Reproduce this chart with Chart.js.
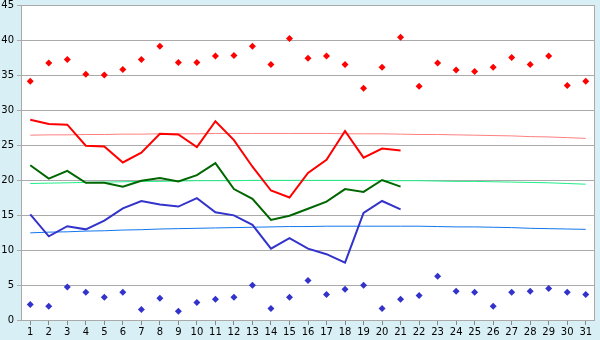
<!DOCTYPE html>
<html>
<head>
<meta charset="utf-8">
<script src="https://cdn.jsdelivr.net/npm/chart.js@4"></script>
<style>
  html, body { margin: 0; padding: 0; background: #d9eff6; }
  #chart { display: block; }
</style>
</head>
<body>
<canvas id="chart" width="600" height="340"></canvas>
<script>
// days of the month
const days = ['1','2','3','4','5','6','7','8','9','10','11','12','13','14','15','16',
              '17','18','19','20','21','22','23','24','25','26','27','28','29','30','31'];

// daily max / min markers
const maxPoints = [34.1, 36.7, 37.2, 35.1, 35.0, 35.8, 37.2, 39.1, 36.8, 36.8,
                   37.7, 37.8, 39.1, 36.5, 40.2, 37.4, 37.7, 36.5, 33.1, 36.1,
                   40.4, 33.4, 36.7, 35.7, 35.5, 36.1, 37.5, 36.5, 37.7, 33.5, 34.1];
const minPoints = [2.2, 1.95, 4.7, 3.95, 3.25, 3.95, 1.5, 3.1, 1.25, 2.5,
                   2.95, 3.25, 4.95, 1.65, 3.25, 5.65, 3.65, 4.4, 4.95, 1.65,
                   2.95, 3.5, 6.25, 4.1, 3.95, 1.95, 3.95, 4.1, 4.5, 3.95, 3.65];

// measured lines (days 1-21)
const redLine   = [28.6, 28.0, 27.9, 24.9, 24.8, 22.5, 23.9, 26.6, 26.5, 24.7,
                   28.4, 25.7, 21.9, 18.5, 17.5, 21.0, 22.9, 27.0, 23.2, 24.5, 24.2];
const greenLine = [22.1, 20.2, 21.3, 19.6, 19.6, 19.05, 19.9, 20.3, 19.8, 20.7,
                   22.4, 18.7, 17.3, 14.3, 14.9, 15.9, 16.9, 18.7, 18.3, 20.0, 19.05];
const blueLine  = [15.1, 11.95, 13.4, 12.95, 14.2, 15.95, 17.0, 16.5, 16.2, 17.4,
                   15.4, 14.95, 13.6, 10.2, 11.7, 10.2, 9.4, 8.2, 15.3, 17.0, 15.8];

// long-term reference curves
const redTrend   = [26.4, 26.45, 26.45, 26.5, 26.5, 26.55, 26.55, 26.6, 26.6, 26.6,
                    26.65, 26.65, 26.65, 26.65, 26.65, 26.65, 26.65, 26.6, 26.6, 26.6,
                    26.55, 26.5, 26.5, 26.45, 26.4, 26.35, 26.3, 26.2, 26.15, 26.05, 25.95];
const greenTrend = [19.5, 19.55, 19.6, 19.65, 19.7, 19.75, 19.8, 19.8, 19.85, 19.9,
                    19.9, 19.9, 19.95, 19.95, 19.95, 19.95, 19.95, 19.95, 19.95, 19.9,
                    19.9, 19.9, 19.85, 19.8, 19.8, 19.75, 19.7, 19.65, 19.6, 19.5, 19.4];
const blueTrend  = [12.45, 12.55, 12.6, 12.7, 12.75, 12.85, 12.9, 13.0, 13.05, 13.1,
                    13.15, 13.2, 13.25, 13.3, 13.35, 13.35, 13.4, 13.4, 13.4, 13.4,
                    13.4, 13.4, 13.35, 13.3, 13.3, 13.25, 13.2, 13.1, 13.05, 13.0, 12.95];

const yMin = 0, yMax = 45, yStep = 5;

const FONT = { family: 'DejaVu Sans', size: 10 };

function lineSet(data, color, width) {
    return {
        type: 'line',
        data,
        borderColor: color,
        backgroundColor: color,
        borderWidth: width,
        pointRadius: 0,
        tension: 0,
        fill: false,
        spanGaps: false
    };
}

function markerSet(data, color) {
    return {
        type: 'line',
        data,
        showLine: false,
        pointStyle: 'rectRot',
        pointRadius: 3.5,
        pointBorderWidth: 0,
        pointBackgroundColor: color,
        borderColor: color
    };
}

/* plot background + frame */
const framePlugin = {
    id: 'frame',
    beforeDraw(chart) {
        const { ctx, chartArea: a } = chart;
        ctx.save();
        ctx.fillStyle = '#d9eff6';
        ctx.fillRect(0, 0, chart.width, chart.height);
        ctx.fillStyle = '#ffffff';
        ctx.fillRect(a.left, a.top, a.right - a.left, a.bottom - a.top);
        ctx.restore();
    },
    beforeDatasetsDraw(chart) {
        const { ctx, chartArea: a } = chart;
        ctx.save();
        ctx.strokeStyle = '#aaaaaa';
        ctx.lineWidth = 1;
        ctx.strokeRect(Math.round(a.left) + 0.5, Math.round(a.top) + 0.5,
                       Math.round(a.right - a.left) - 1, Math.round(a.bottom - a.top));
        ctx.restore();
    }
};

new Chart(document.getElementById('chart'), {
    data: {
        labels: days,
        datasets: [
            markerSet(maxPoints, '#ff0000'),
            markerSet(minPoints, '#3333cc'),
            lineSet(redLine, '#ff0000', 2),
            lineSet(greenLine, '#006600', 2),
            lineSet(blueLine, '#3333cc', 2),
            lineSet(redTrend, '#ff8080', 1),
            lineSet(greenTrend, '#22ee88', 1),
            lineSet(blueTrend, '#1177ee', 1)
        ]
    },
    options: {
        responsive: false,
        devicePixelRatio: 1,
        animation: false,
        layout: { padding: { top: 5, right: 5, left: 0, bottom: 0 } },
        plugins: { legend: { display: false }, tooltip: { enabled: false } },
        scales: {
            x: {
                type: 'category',
                offset: true,
                grid: { offset: false, drawOnChartArea: false, tickLength: 5, color: '#888888' },
                border: { display: false },
                ticks: { font: FONT, color: '#000', padding: 1, maxRotation: 0, autoSkip: false },
                afterFit: s => { s.height = 20; }
            },
            y: {
                min: yMin,
                max: yMax,
                grid: { color: '#aaaaaa', tickLength: 4 },
                border: { display: false },
                ticks: { stepSize: yStep, font: FONT, color: '#000', padding: 3 },
                afterFit: s => { s.width = 21; s.paddingTop = 0; s.paddingBottom = 0; }
            }
        }
    },
    plugins: [framePlugin]
});
</script>
</body>
</html>
